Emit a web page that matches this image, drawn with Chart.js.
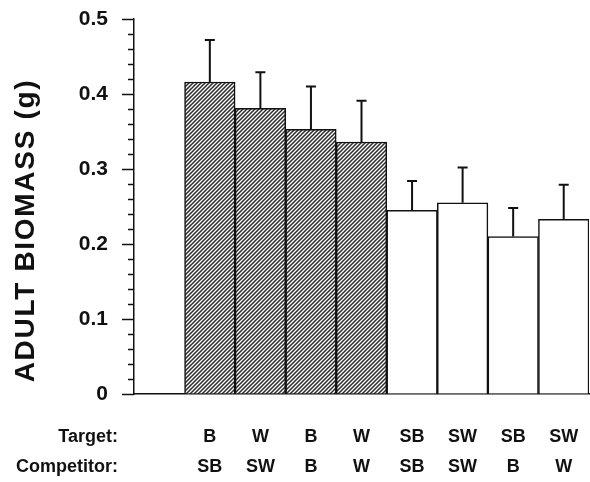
<!DOCTYPE html>
<html>
<head>
<meta charset="utf-8">
<script src="https://cdn.jsdelivr.net/npm/chart.js@4.4.0/dist/chart.umd.min.js"></script>
<style>
  html, body { margin: 0; padding: 0; background: #fff; }
  #wrap { width: 590px; height: 482px; }
</style>
</head>
<body>
<div id="wrap"><canvas id="mycanvas" width="590" height="482"></canvas></div>
<script>
// data
var targets     = ['B', 'W', 'B', 'W', 'SB', 'SW', 'SB', 'SW'];
var competitors = ['SB', 'SW', 'B', 'W', 'SB', 'SW', 'B', 'W'];
var biomass     = [0.416, 0.381, 0.353, 0.336, 0.245, 0.255, 0.210, 0.233];
var errors      = [0.056, 0.048, 0.057, 0.055, 0.039, 0.047, 0.038, 0.046];
var hatched     = [true, true, true, true, false, false, false, false];
var yTicks      = [0, 0.1, 0.2, 0.3, 0.4, 0.5];

// hatch pattern for the first four bars
function makeHatch() {
  var s = 4;
  var c = document.createElement('canvas');
  c.width = s; c.height = s;
  var g = c.getContext('2d');
  g.fillStyle = '#fff';
  g.fillRect(0, 0, s, s);
  g.strokeStyle = '#2a2a2a';
  g.lineWidth = 1.5;
  g.beginPath();
  g.moveTo(-1, s + 1); g.lineTo(s + 1, -1);
  g.moveTo(-1, 1); g.lineTo(1, -1);
  g.moveTo(s - 1, s + 1); g.lineTo(s + 1, s - 1);
  g.stroke();
  return g.createPattern(c, 'repeat');
}
var hatch = makeHatch();

// first slot left empty, like the original
var labels = [''];
var values = [null];
var fills = ['#fff'];
for (var i = 0; i < targets.length; i++) {
  labels.push([targets[i], competitors[i]]);
  values.push(biomass[i]);
  fills.push(hatched[i] ? hatch : '#fff');
}

var extras = {
  id: 'extras',
  afterDatasetsDraw: function(chart) {
    var ctx = chart.ctx;
    var y = chart.scales.y;
    var area = chart.chartArea;
    var meta = chart.getDatasetMeta(0);
    ctx.save();
    ctx.strokeStyle = '#111';
    ctx.lineWidth = 2;
    // error bars (upper only)
    for (var i = 0; i < biomass.length; i++) {
      var bar = meta.data[i + 1];
      var top = y.getPixelForValue(biomass[i] + errors[i]);
      ctx.beginPath();
      ctx.moveTo(bar.x, bar.y);
      ctx.lineTo(bar.x, top);
      ctx.moveTo(bar.x - 5, top);
      ctx.lineTo(bar.x + 5, top);
      ctx.stroke();
    }
    // y ticks: majors stick out left, minors short
    ctx.lineWidth = 1.5;
    for (var k = 0; k <= 25; k++) {
      var v = k * 0.02;
      var py = Math.round(y.getPixelForValue(v)) + 0.5;
      var len = (k % 5 === 0) ? 12 : 6;
      ctx.beginPath();
      ctx.moveTo(area.left - len, py);
      ctx.lineTo(area.left, py);
      ctx.stroke();
    }
    // y title
    ctx.fillStyle = '#111';
    ctx.font = 'bold 28px "Liberation Sans", Arial, sans-serif';
    ctx.letterSpacing = '1.7px';
    ctx.textAlign = 'center';
    ctx.textBaseline = 'middle';
    ctx.translate(area.left - 108, (area.top + area.bottom) / 2 + 24);
    ctx.rotate(-Math.PI / 2);
    ctx.fillText('ADULT BIOMASS (g)', 0, 0);
    ctx.restore();
    // row names under the x axis
    ctx.save();
    ctx.fillStyle = '#111';
    ctx.font = 'bold 18px "Liberation Sans", Arial, sans-serif';
    ctx.textAlign = 'right';
    ctx.textBaseline = 'middle';
    ctx.fillText('Target:', area.left - 16, area.bottom + 43);
    ctx.fillText('Competitor:', area.left - 16, area.bottom + 73);
    ctx.restore();
  }
};

var ctx = document.getElementById('mycanvas');
var barGraph = new Chart(ctx, {
  type: 'bar',
  data: {
    labels: labels,
    datasets: [{
      data: values,
      backgroundColor: fills,
      borderColor: '#111',
      borderWidth: 1.5,
      borderSkipped: 'bottom',
      categoryPercentage: 1,
      barPercentage: 1
    }]
  },
  options: {
    responsive: false,
    animation: false,
    layout: { padding: { top: 19, right: 1, left: 0, bottom: 0 } },
    plugins: { legend: { display: false }, tooltip: { enabled: false } },
    scales: {
      x: {
        // invisible tick marks push the labels down
        grid: { display: true, drawOnChartArea: false, drawTicks: true, tickLength: 28, tickColor: 'rgba(0,0,0,0)' },
        border: { display: true, color: '#111', width: 1.5 },
        ticks: {
          color: '#111',
          padding: 0,
          maxRotation: 0,
          autoSkip: false,
          font: { family: '"Liberation Sans", Arial, sans-serif', size: 18, weight: 'bold', lineHeight: 1.667 }
        },
        afterFit: function(s) { s.height = 88; }
      },
      y: {
        min: 0,
        max: 0.5,
        afterBuildTicks: function(s) {
          s.ticks = yTicks.map(function(v) { return { value: v }; });
        },
        grid: { display: true, drawOnChartArea: false, drawTicks: true, tickLength: 26, tickColor: 'rgba(0,0,0,0)' },
        border: { display: true, color: '#111', width: 1.5 },
        ticks: {
          color: '#111',
          padding: 0,
          font: { family: '"Liberation Sans", Arial, sans-serif', size: 21, weight: 'bold' },
          callback: function(v) { return v === 0 ? '0' : v.toFixed(1); }
        },
        afterFit: function(s) { s.width = 134; }
      }
    }
  },
  plugins: [extras]
});
</script>
</body>
</html>
